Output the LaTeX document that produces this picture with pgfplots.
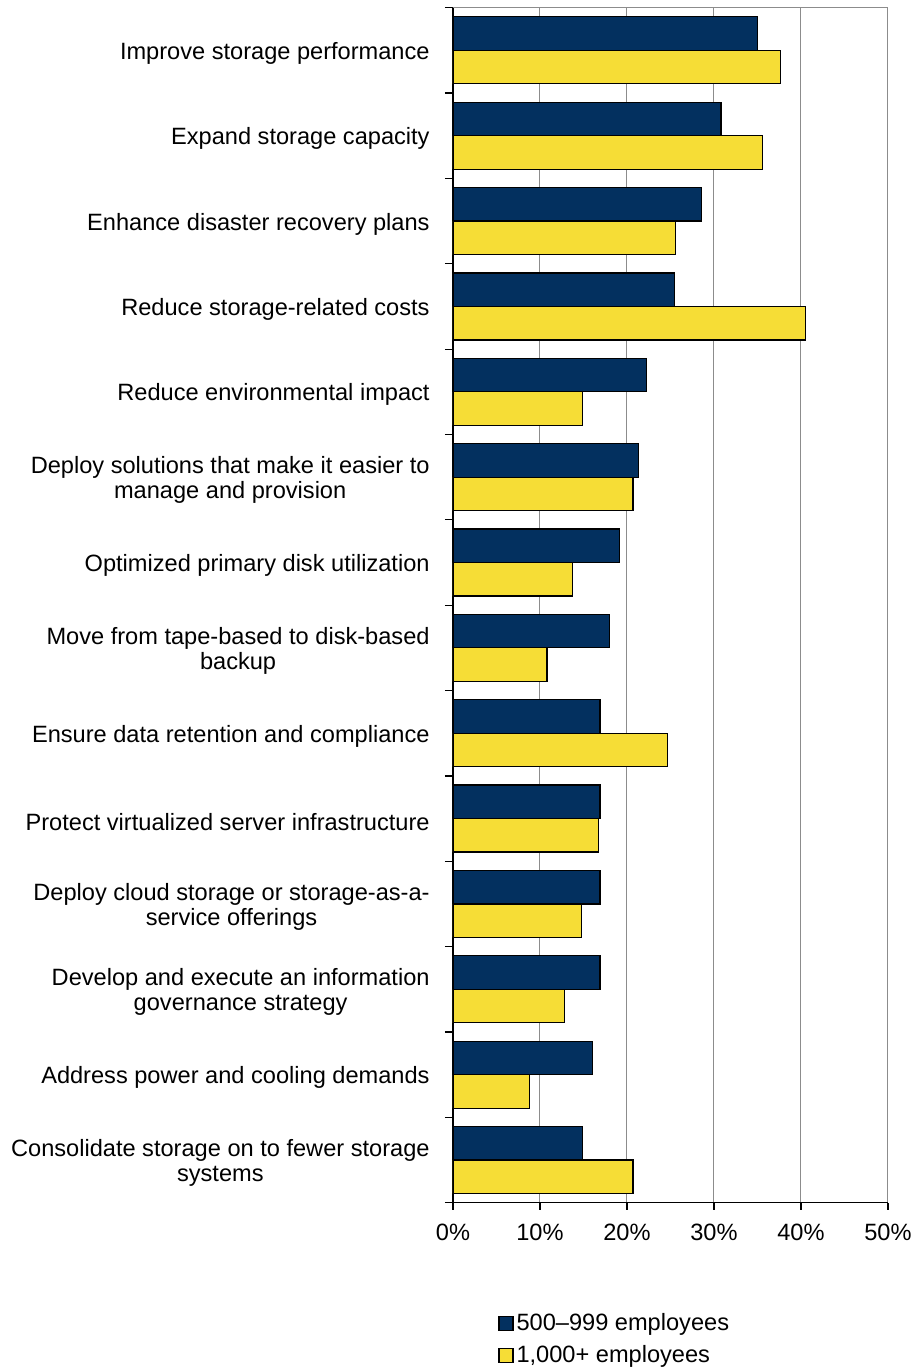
\documentclass[border=0pt]{standalone}
\usepackage{fontspec}
\setmainfont{Liberation Sans}
\usepackage{pgfplots}
\pgfplotsset{compat=1.18}
\usepackage{pgfplotstable}

\definecolor{navybar}{HTML}{03305F}
\definecolor{goldbar}{HTML}{F6DD36}
\definecolor{gridgray}{HTML}{8C8C8C}

% share of respondents naming each storage priority, by company size
% pos 13 = top row, pos 0 = bottom row
\pgfplotstableread{
pos small large
13 35.0 37.6
12 30.8 35.6
11 28.6 25.6
10 25.5 40.5
9  22.2 14.9
8  21.3 20.7
7  19.1 13.7
6  18.0 10.8
5  16.9 24.7
4  16.9 16.7
3  16.9 14.8
2  16.9 12.8
1  16.0 8.8
0  14.9 20.7
}\priorities

\newcommand{\labelfont}{\fontsize{11.8}{12.5}\selectfont}

\begin{document}
\begin{tikzpicture}
\begin{axis}[
  name=ax, at={(0,0)}, anchor=south west,
  scale only axis, width=217.5pt, height=597.5pt,
  xmin=0, xmax=50, ymin=-0.5, ymax=13.5,
  enlargelimits=false,
  xbar, bar width=16.75pt,
  axis x line*=bottom, axis y line*=left,
  axis line style={black, line width=0.7pt},
  xtick={0,10,20,30,40,50},
  xticklabels={0\%,10\%,20\%,30\%,40\%,50\%},
  xmajorgrids, major grid style={gridgray, line width=0.5pt},
  ytick={0,...,13},
  yticklabels={
    {Consolidate storage on to fewer storage\\systems},
    {Address power and cooling demands},
    {Develop and execute an information\\governance strategy},
    {Deploy cloud storage or storage-as-a-\\service offerings},
    {Protect virtualized server infrastructure},
    {Ensure data retention and compliance},
    {Move from tape-based to disk-based\\backup},
    {Optimized primary disk utilization},
    {Deploy solutions that make it easier to\\manage and provision},
    {Reduce environmental impact},
    {Reduce storage-related costs},
    {Enhance disaster recovery plans},
    {Expand storage capacity},
    {Improve storage performance}},
  minor ytick={-0.5,0.5,...,13.5},
  tick align=outside,
  major tick length=3.5pt, minor tick length=4pt,
  every major y tick/.append style={draw=none},
  tick style={black, line width=0.6pt},
  yticklabel style={align=center, font=\labelfont, inner sep=0pt,
    xshift=-8pt, yshift=-1.5pt},
  xticklabel style={font=\labelfont, inner sep=0pt, yshift=-7pt},
  legend style={at={(0.1034,-0.0900)}, anchor=north west, draw=none, fill=none,
    font=\labelfont, row sep=3pt, inner sep=0pt,
    nodes={inner sep=1.5pt}},
  legend cell align=left,
  legend image code/.code={\draw[#1] (0pt,-3.5pt) rectangle (7pt,3.5pt);},
]
\addplot[fill=navybar, draw=black, line width=0.6pt, bar shift=8.375pt]
  table[x=small, y=pos] {\priorities};
\addlegendentry{500--999 employees}
\addplot[fill=goldbar, draw=black, line width=0.6pt, bar shift=-8.375pt]
  table[x=large, y=pos] {\priorities};
\addlegendentry{1,000+ employees}
\draw[gridgray, line width=0.5pt] (rel axis cs:0,1) -- (rel axis cs:1,1);
\end{axis}
\pgfresetboundingbox
\path (-226.5pt,-82.15pt) rectangle (230pt,601.35pt);
\end{tikzpicture}
\end{document}
